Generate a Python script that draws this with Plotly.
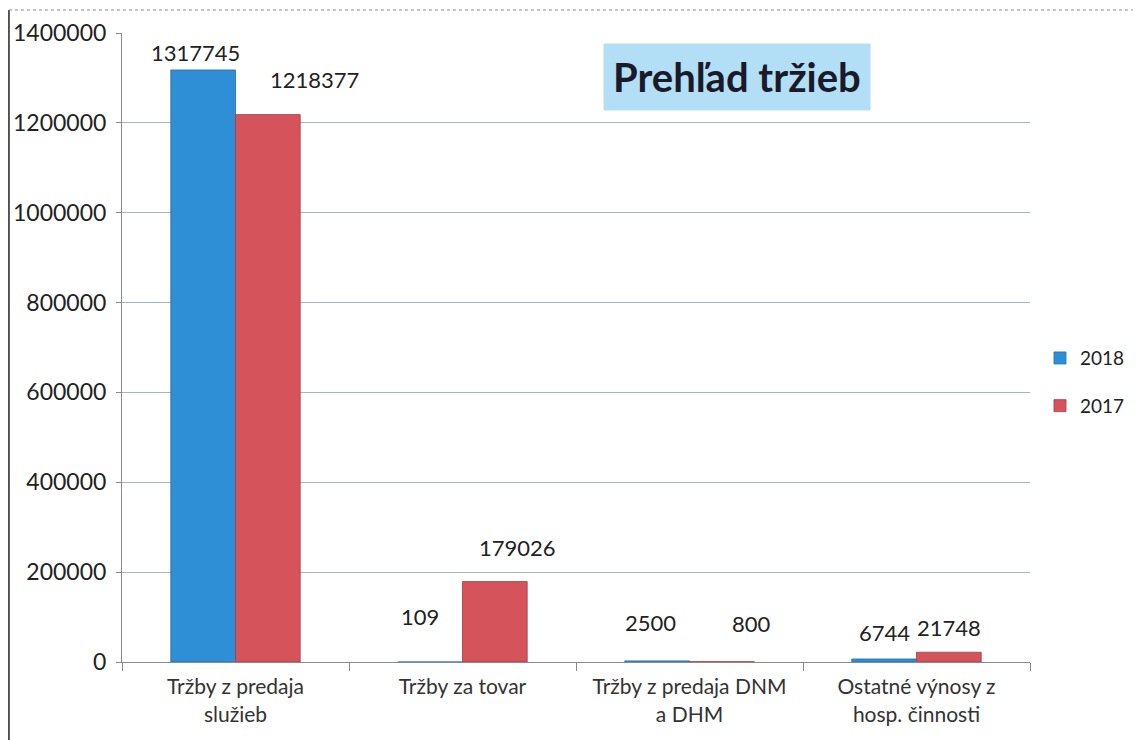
import plotly.graph_objects as go

categories = ["Tržby z predaja<br>služieb", "Tržby za tovar", "Tržby z predaja DNM<br>a DHM", "Ostatné výnosy z<br>hosp. činnosti"]
values_2018 = [1317745, 109, 2500, 6744]
values_2017 = [1218377, 179026, 800, 21748]
y_ticks = [0, 200000, 400000, 600000, 800000, 1000000, 1200000, 1400000]
title_text = "Prehľad tržieb"

BLUE = "#2F8FD6"
RED = "#D5545C"
FONT = "Lato, 'Open Sans', sans-serif"

fig = go.Figure()
fig.add_trace(go.Bar(name="2018", x=categories, y=values_2018, marker=dict(color=BLUE, line=dict(color="#1f6fae", width=0.8)), legendgroup="a"))
fig.add_trace(go.Bar(name="2017", x=categories, y=values_2017, marker=dict(color=RED, line=dict(color="#a83a41", width=0.8)), legendgroup="b"))

# label placement styling (pixel shifts), per series
xshift_2018 = [-40, -43, -39, -32]
xshift_2017 = [79, 55, 62, 32]
yshift_2018 = [17, 45, 38, 26]
yshift_2017 = [35, 34, 38, 25]

annotations = []
for i, c in enumerate(categories):
    annotations.append(dict(x=c, y=values_2018[i], text=str(values_2018[i]), showarrow=False,
                            xshift=xshift_2018[i], yshift=yshift_2018[i], yanchor="middle", xanchor="center",
                            font=dict(size=22, color="#222", family=FONT)))
    annotations.append(dict(x=c, y=values_2017[i], text=str(values_2017[i]), showarrow=False,
                            xshift=xshift_2017[i], yshift=yshift_2017[i], yanchor="middle", xanchor="center",
                            font=dict(size=22, color="#222", family=FONT)))

annotations.append(dict(x=0.677, y=0.93, xref="paper", yref="paper", text="<b>" + title_text + "</b>",
                        showarrow=False, bgcolor="#B3DFF6", borderpad=9, xanchor="center", yanchor="middle",
                        font=dict(size=40, color="#1a1a2a", family=FONT)))

fig.update_layout(
    width=1141, height=740,
    margin=dict(l=114, r=119, t=25, b=86, autoexpand=False),
    paper_bgcolor="white", plot_bgcolor="white",
    barmode="group", bargap=0.43, bargroupgap=0,
    font=dict(family=FONT, color="#222"),
    showlegend=True,
    legend=dict(x=1.011, y=0.445, xanchor="left", yanchor="middle", tracegroupgap=20,
                font=dict(size=19, color="#222", family=FONT), bgcolor="rgba(0,0,0,0)"),
    annotations=annotations,
    shapes=[
        dict(type="line", xref="paper", yref="paper", x0=-0.1245, x1=-0.1245, y0=-0.13, y1=1.0366,
             line=dict(color="#222", width=1.5)),
        dict(type="line", xref="paper", yref="paper", x0=-0.1245, x1=1.13, y0=1.0366, y1=1.0366,
             line=dict(color="#888", width=1, dash="dot")),
    ],
)
fig.update_yaxes(range=[0, 1400000], tickvals=y_ticks, ticktext=[str(v) for v in y_ticks],
                 showgrid=True, gridcolor="#A9B4C3", gridwidth=1, automargin=False,
                 showline=True, linecolor="#8a8a8a", linewidth=1,
                 ticks="outside", ticklen=5, tickcolor="#8a8a8a", ticklabelstandoff=5,
                 tickfont=dict(size=23, color="#222", family=FONT), zeroline=False)
fig.update_xaxes(showline=True, linecolor="#8a8a8a", linewidth=1, tickson="boundaries", automargin=False,
                 ticks="outside", ticklen=8, tickcolor="#8a8a8a", ticklabelstandoff=6,
                 tickfont=dict(size=21, color="#333", family=FONT))

fig.write_html("out.html")
